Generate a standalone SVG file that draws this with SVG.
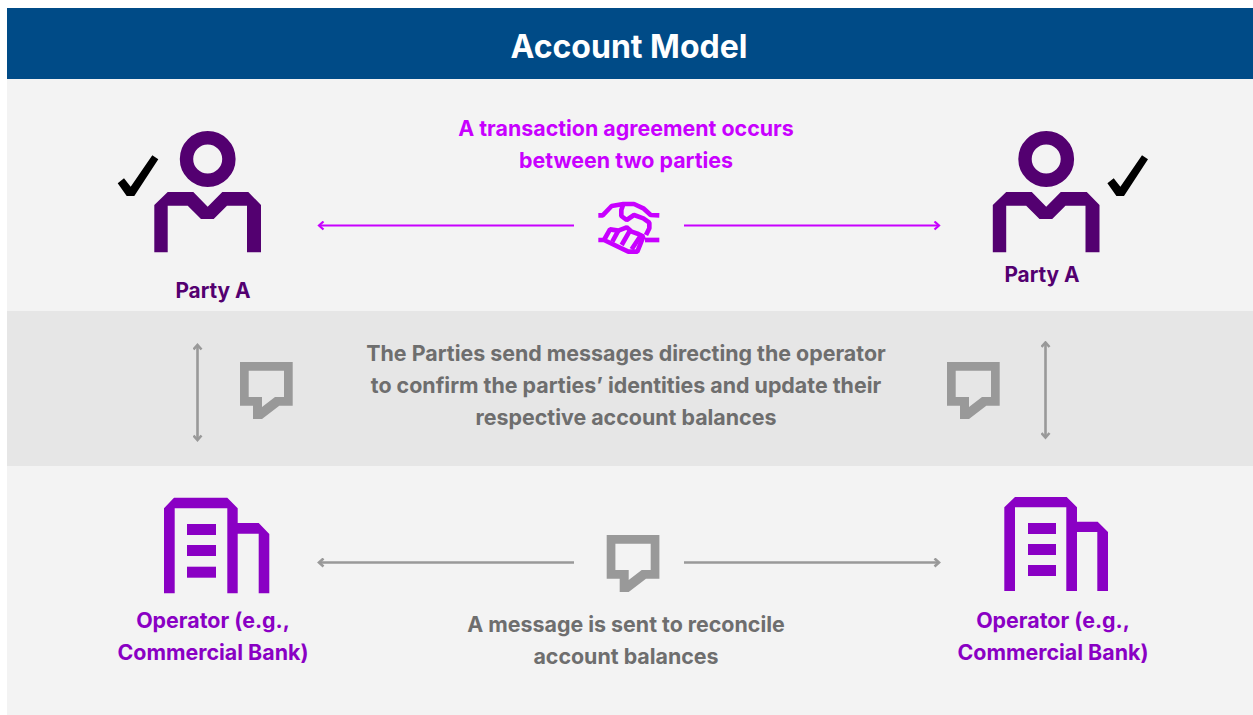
<svg xmlns="http://www.w3.org/2000/svg" width="1253" height="715" viewBox="0 0 1253 715">
<style>
text{font-family:Inter,"Liberation Sans",sans-serif;font-weight:700;text-anchor:middle;font-size:21.4px}
.title{font-size:32px;fill:#fff}
.m{fill:#c800ff}.g{fill:#6e6e6e}.p{fill:#8a00c4}.d{fill:#530070}
.lm{stroke:#c800ff;stroke-width:2.2;fill:none}
.lg{stroke:#999;stroke-width:2.6;fill:none}
</style>
<defs>
<marker id="am" viewBox="0 0 10 10" refX="8" refY="5" markerWidth="10" markerHeight="10" markerUnits="userSpaceOnUse" orient="auto-start-reverse"><path d="M3.500 1L8 5L3.500 9" fill="none" stroke="#c800ff" stroke-width="2.2"/></marker>
<marker id="ag" viewBox="0 0 10 10" refX="8" refY="5" markerWidth="10" markerHeight="10" markerUnits="userSpaceOnUse" orient="auto-start-reverse"><path d="M3.500 1L8 5L3.500 9" fill="none" stroke="#999" stroke-width="2.6"/></marker>
<g id="person"><circle cx="207.7" cy="159" r="21.200" fill="none" stroke="#530070" stroke-width="13.400"/><path fill="#530070" d="M154.300 252.300V205L167.700 192H193.300L207.700 206.700L222.300 192H248.300L261 205V252.300H247V205.700H227L213.700 219H201L187.700 205.700H167.700V252.300Z"/></g>
<path id="check" d="M117.700 183.300L124 178.300L130.700 186.700L152.300 155.300L158.300 159.300L134.300 196H126.700Z" fill="#000"/>
<path id="bubble" fill="#999" fill-rule="evenodd" d="M240 362H292.700V405.700H279.300L262 419H253V405.700H240ZM248.700 370.700V397H262V407L275 397H284V370.700Z"/>
</defs>
<rect width="1253" height="715" fill="#fff"/>
<rect x="7" y="79" width="1246" height="636" fill="#f3f3f3"/>
<rect x="7" y="311" width="1246" height="155" fill="#e6e6e6"/>
<rect x="7" y="8" width="1246" height="71" fill="#004b87"/>
<text class="title" x="629" y="58">Account Model</text>

<g id="connectors">
<path class="lm" d="M319 225.500H574" marker-start="url(#am)"/>
<path class="lm" d="M684 225.500H939" marker-end="url(#am)"/>
<path class="lg" d="M197.500 345V440" marker-start="url(#ag)" marker-end="url(#ag)"/>
<path class="lg" d="M1045.500 342.500V437.500" marker-start="url(#ag)" marker-end="url(#ag)"/>
<path class="lg" d="M319 562.500H574" marker-start="url(#ag)"/>
<path class="lg" d="M684 562.500H939" marker-end="url(#ag)"/>
</g>

<g id="party-left"><use href="#person"/><use href="#check"/><text class="d" x="213" y="298" style="font-size:20.800px">Party A</text></g>
<g id="party-right"><use href="#person" x="838.500"/><use href="#check" x="989.700"/><text class="d" x="1042" y="282" style="font-size:20.800px">Party A</text></g>
<g id="agreement"><text class="m" x="626" y="136">A transaction agreement occurs</text><text class="m" x="626" y="168">between two parties</text>
<g transform="translate(560 190) scale(.3333)" fill="none" stroke="#c800ff" stroke-width="14" stroke-linejoin="bevel"><path d="M115 76H128L155 48L190 42H222L250 55L272 75L298 76"/><path d="M190 42L184 60V78L200 90L222 75L250 85L268 98V115L258 135"/><path d="M115 150H132L150 118L175 122L200 112L215 125L235 132L250 140L232 185H205L132 150"/><path d="M255 150H298"/><path d="M175 122L157 155M208 125L185 165M240 140L215 178"/></g></g>
<g id="msg-left"><use href="#bubble"/></g>
<g id="msg-right"><use href="#bubble" x="707"/></g>
<g id="msg-text"><text class="g" x="626" y="361">The Parties send messages directing the operator</text><text class="g" x="626" y="393">to confirm the parties’ identities and update their</text><text class="g" x="626" y="425">respective account balances</text></g>
<g id="operator-left"><g fill="#8a00c4"><path d="M164 593.300V508.300L174 497.700H227.300L237.700 508.300V523H258.700L269.300 534V593.300H258.700V533.700H237.700V593.300H227.300V508.300H174.700V593.300Z"/><rect x="187" y="524" width="29" height="11"/><rect x="187" y="545" width="29" height="11"/><rect x="187" y="566.700" width="29" height="11"/></g><text class="p" x="213" y="628">Operator (e.g.,</text><text class="p" x="213" y="660">Commercial Bank)</text></g>
<g id="operator-right"><g fill="#8a00c4"><path d="M1004.300 591V507.300L1015 497H1066.700L1077 507.300V521.700H1097.700L1108 532V591H1097.300V532H1077V591H1066.300V507.300H1015V591Z"/><rect x="1028" y="523" width="28" height="11"/><rect x="1028" y="544" width="28" height="11"/><rect x="1028" y="565" width="28" height="11"/></g><text class="p" x="1053" y="628">Operator (e.g.,</text><text class="p" x="1053" y="660">Commercial Bank)</text></g>
<g id="reconcile"><use href="#bubble" x="366.700" y="173"/><text class="g" x="626" y="632">A message is sent to reconcile</text><text class="g" x="626" y="664">account balances</text></g>
</svg>
